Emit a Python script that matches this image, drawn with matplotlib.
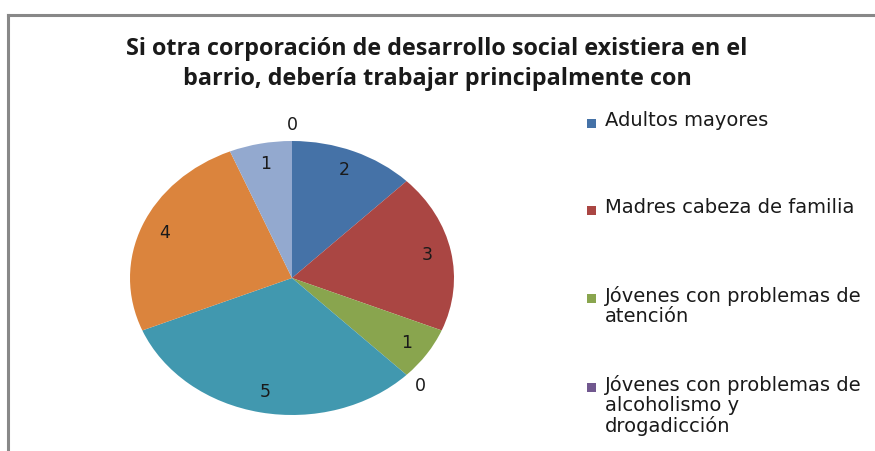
import numpy as np
import matplotlib
matplotlib.use("Agg")
import matplotlib.pyplot as plt
from matplotlib.lines import Line2D
from matplotlib.patches import Rectangle

# Datos
categorias = ["Adultos mayores", "Madres cabeza de familia",
              "Jóvenes con problemas de\natención",
              "Jóvenes con problemas de\nalcoholismo y\ndrogadicción",
              "Otra 5", "Otra 6", "Otra 7", "Otra 8"]
valores = [2, 3, 1, 0, 5, 4, 1, 0]
colores = ["#4572A7", "#AA4643", "#89A54E", "#71588F",
           "#4198AF", "#DB843D", "#93A9CF", "#D19392"]
n_leyenda = 4   # solo se ven las 4 primeras entradas

W, H = 875, 451
fig = plt.figure(figsize=(W / 100, H / 100), dpi=100)

# borde del gráfico (solo arriba e izquierda)
fig.add_artist(Line2D([8 / W, 8 / W], [0, 1 - 15 / H], color="#888888", lw=2.2))
fig.add_artist(Line2D([8 / W, 1], [1 - 15 / H, 1 - 15 / H], color="#888888", lw=2.2))

fig.text(437 / W, 1 - 64 / H,
         "Si otra corporación de desarrollo social existiera en el\nbarrio, debería trabajar principalmente con",
         ha="center", va="center", fontsize=16.8, fontweight="bold",
         family="Open Sans", linespacing=1.3, color="#1a1a1a")

# pie elíptico
cx, cy, rx, ry = 292, 278, 162, 137
ax = fig.add_axes([(cx - rx) / W, (H - cy - ry) / H, 2 * rx / W, 2 * ry / H])
wedges, _ = ax.pie(valores, colors=colores, startangle=90, counterclock=False,
                   wedgeprops=dict(linewidth=0))
ax.set_aspect("auto")
ax.set_xlim(-1, 1)
ax.set_ylim(-1, 1)
ax.axis("off")

for w, v in zip(wedges, valores):
    ang = np.deg2rad((w.theta1 + w.theta2) / 2)
    r = 0.85 if v > 0 else 1.12
    ax.text(r * np.cos(ang), r * np.sin(ang), str(v), ha="center", va="center",
            fontsize=12.5, color="#1a1a1a", family="DejaVu Sans")

# leyenda manual
ys = [123, 210, 298, 387]
for i in range(n_leyenda):
    y = ys[i]
    fig.add_artist(Rectangle((587 / W, 1 - (y + 4.5) / H), 9 / W, 9 / H,
                             facecolor=colores[i], edgecolor="none"))
    fig.text(605 / W, 1 - (y - 12) / H, categorias[i], ha="left", va="top",
             fontsize=14, family="DejaVu Sans", linespacing=1.08, color="#1a1a1a")

fig.savefig("out.png", dpi=100)
